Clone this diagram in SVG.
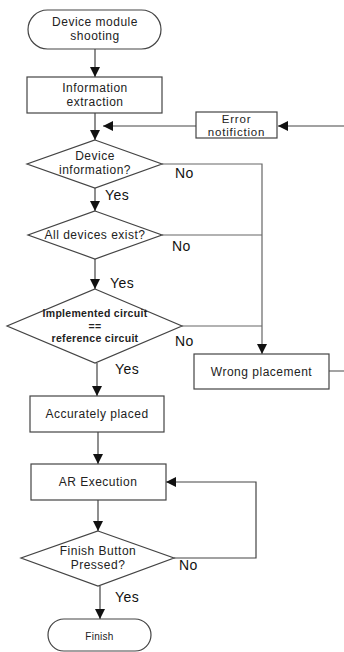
<svg xmlns="http://www.w3.org/2000/svg" width="344" height="652" viewBox="0 0 344 652">
<defs>
<style>
.shape{fill:#fff;stroke:#444;stroke-width:1.2}
.t{font-family:"Liberation Sans",Arial,sans-serif;font-size:12px;letter-spacing:0.5px;fill:#222;text-anchor:middle}
.b{font-family:"Liberation Sans",Arial,sans-serif;font-size:10.5px;font-weight:bold;letter-spacing:0.3px;fill:#222;text-anchor:middle}
.lbl{font-family:"Liberation Sans",Arial,sans-serif;font-size:14px;letter-spacing:0.5px;fill:#111}
.c{fill:none;stroke:#444;stroke-width:1.2}
.g{fill:none;stroke:#666;stroke-width:1.2}
</style>
<marker id="ah" viewBox="0 0 10 10" refX="10" refY="5" markerWidth="10" markerHeight="10" markerUnits="userSpaceOnUse" orient="auto">
<path d="M0,0 L10,5 L0,10 z" fill="#111"/>
</marker>
</defs>
<rect width="344" height="652" fill="#fff"/>
<g id="connectors">
<line class="c" x1="95" y1="49" x2="95" y2="77" marker-end="url(#ah)"/>
<line class="c" x1="95" y1="113" x2="95" y2="140" marker-end="url(#ah)"/>
<line class="c" x1="196" y1="126" x2="103" y2="126" marker-end="url(#ah)"/>
<line class="c" x1="344" y1="126" x2="278" y2="126" marker-end="url(#ah)"/>
<line class="c" x1="95" y1="188" x2="95" y2="211" marker-end="url(#ah)"/>
<line class="c" x1="95" y1="259" x2="95" y2="289" marker-end="url(#ah)"/>
<line class="c" x1="97" y1="363" x2="97" y2="396" marker-end="url(#ah)"/>
<line class="c" x1="98" y1="432" x2="98" y2="464" marker-end="url(#ah)"/>
<line class="c" x1="98" y1="500" x2="98" y2="531" marker-end="url(#ah)"/>
<line class="c" x1="100" y1="586" x2="100" y2="619" marker-end="url(#ah)"/>
<polyline class="g" points="162,164 262,164 262,354" marker-end="url(#ah)"/>
<line class="g" x1="162" y1="235" x2="262" y2="235"/>
<line class="g" x1="182" y1="326" x2="262" y2="326"/>
<line class="g" x1="329" y1="371" x2="344" y2="371"/>
<polyline class="c" points="174,558 256,558 256,482 166,482" marker-end="url(#ah)"/>
<text class="lbl" x="175" y="178">No</text>
<text class="lbl" x="105" y="200">Yes</text>
<text class="lbl" x="172" y="251">No</text>
<text class="lbl" x="110" y="288">Yes</text>
<text class="lbl" x="175" y="346">No</text>
<text class="lbl" x="115" y="374">Yes</text>
<text class="lbl" x="179" y="570">No</text>
<text class="lbl" x="115" y="602">Yes</text>
</g>
<g id="start">
<rect class="shape" x="28" y="10" width="133" height="39" rx="19.5"/>
<text class="t" x="95" y="26">Device module</text>
<text class="t" x="95" y="40">shooting</text>
</g>
<g id="info-extraction">
<rect class="shape" x="27" y="77" width="135" height="36"/>
<text class="t" x="95" y="92">Information</text>
<text class="t" x="95" y="106">extraction</text>
</g>
<g id="error-notification">
<rect class="shape" x="196" y="112" width="81" height="26"/>
<text class="t" x="236.5" y="122.5" style="font-size:11.5px;letter-spacing:0.8px">Error</text>
<text class="t" x="236.5" y="135.5" style="font-size:11.5px;letter-spacing:0.8px">notifiction</text>
</g>
<g id="device-info">
<polygon class="shape" points="95,140 162,164 95,188 27,164"/>
<text class="t" x="95" y="160">Device</text>
<text class="t" x="95" y="174">information?</text>
</g>
<g id="all-devices">
<polygon class="shape" points="95,211 162,235 95,259 28,235"/>
<text class="t" x="95" y="239">All devices exist?</text>
</g>
<g id="circuit-compare">
<polygon class="shape" points="95,289 182,326 95,363 7,326"/>
<text class="b" x="95" y="317">Implemented circuit</text>
<text class="b" x="95" y="329.5">==</text>
<text class="b" x="95" y="342">reference circuit</text>
</g>
<g id="wrong-placement">
<rect class="shape" x="194" y="354" width="135" height="35"/>
<text class="t" x="261.5" y="376">Wrong placement</text>
</g>
<g id="accurately-placed">
<rect class="shape" x="30" y="396" width="134" height="36"/>
<text class="t" x="97" y="418">Accurately placed</text>
</g>
<g id="ar-execution">
<rect class="shape" x="31" y="464" width="135" height="36"/>
<text class="t" x="98" y="486">AR Execution</text>
</g>
<g id="finish-button">
<polygon class="shape" points="98,531 174,558 98,586 21,558"/>
<text class="t" x="98" y="555">Finish Button</text>
<text class="t" x="98" y="569">Pressed?</text>
</g>
<g id="finish">
<rect class="shape" x="48" y="619" width="103" height="32" rx="16"/>
<text class="t" x="99.5" y="640" style="font-size:10px;letter-spacing:0.3px">Finish</text>
</g>
</svg>
